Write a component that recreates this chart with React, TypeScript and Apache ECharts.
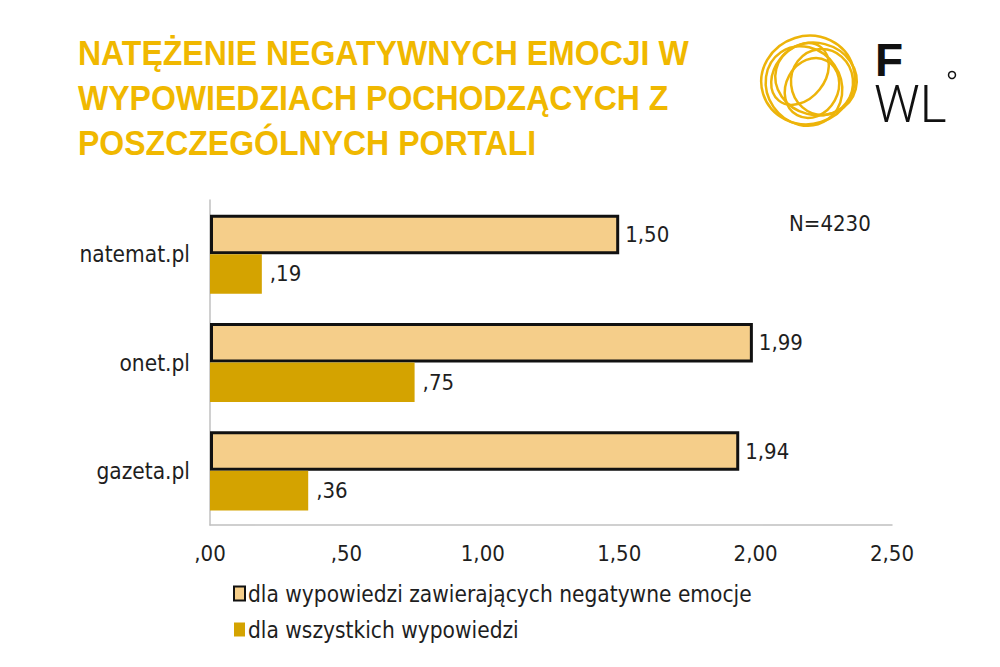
import React, { useEffect, useRef } from "react";
import * as echarts from "echarts";

const categories = ["natemat.pl", "onet.pl", "gazeta.pl"];
const negativeValues = [1.5, 1.99, 1.94];
const allValues = [0.19, 0.75, 0.36];
const seriesNames = ["dla wypowiedzi zawierających negatywne emocje", "dla wszystkich wypowiedzi"];
const titleLines = ["NATĘŻENIE NEGATYWNYCH EMOCJI W", "WYPOWIEDZIACH POCHODZĄCYCH Z", "POSZCZEGÓLNYCH PORTALI"];
const noteText = "N=4230";

const FONT = "'DejaVu Sans Condensed', 'Liberation Sans Narrow', sans-serif";
const TEXT = "#1e1e1e";
const FS = 22;

function fmt(v: number): string {
  const s = v.toFixed(2).replace(".", ",");
  return s.startsWith("0") ? s.slice(1) : s;
}

export default function App() {
  const ref = useRef<HTMLDivElement>(null);
  useEffect(() => {
    document.body.style.margin = "0";
    const chart = echarts.init(ref.current!, null, { renderer: "svg" });
    const yellow = "#F0B800";
    const ring = "#EDB40A";
    chart.setOption({
      animation: false,
      backgroundColor: "#ffffff",
      grid: { left: 210, right: 108, top: 200, bottom: 142 },
      legend: {
        orient: "vertical",
        left: 233,
        top: 582,
        padding: 0,
        itemWidth: 11,
        itemHeight: 14,
        itemGap: 13,
        icon: "rect",
        selectedMode: false,
        textStyle: { color: TEXT, fontSize: 22.5, fontFamily: FONT, padding: [0, 0, 0, -2] },
        data: seriesNames,
      },
      xAxis: {
        type: "value",
        min: 0,
        max: 2.5,
        interval: 0.5,
        axisLine: { show: true, lineStyle: { color: "#c0c0c0", width: 1.5 } },
        axisTick: { show: false },
        splitLine: { show: false },
        axisLabel: { formatter: (v: number) => fmt(v), color: TEXT, fontSize: FS, fontFamily: FONT, margin: 17 },
      },
      yAxis: {
        type: "category",
        inverse: true,
        data: categories,
        axisLine: { show: true, lineStyle: { color: "#c0c0c0", width: 1.5 } },
        axisTick: { show: false },
        axisLabel: { color: TEXT, fontSize: 22.5, fontFamily: FONT, margin: 20 },
      },
      series: [
        {
          name: seriesNames[0],
          type: "bar",
          data: negativeValues,
          barGap: "0%",
          barCategoryGap: "27%",
          itemStyle: { color: "#F5CE8A", borderColor: "#111111", borderWidth: 3 },
          label: { show: true, position: "right", distance: 6, formatter: (p: any) => fmt(p.value), color: TEXT, fontSize: FS, fontFamily: FONT },
        },
        {
          name: seriesNames[1],
          type: "bar",
          data: allValues,
          itemStyle: { color: "#D4A300" },
          label: { show: true, position: "right", distance: 8, formatter: (p: any) => fmt(p.value), color: TEXT, fontSize: FS, fontFamily: FONT },
        },
      ],
      graphic: [
        {
          type: "text",
          x: 78,
          y: 31,
          scaleX: 0.915,
          style: {
            text: titleLines.join("\n"),
            fill: yellow,
            fontSize: 35,
            lineHeight: 45,
            fontWeight: "bold",
            fontFamily: "'Liberation Sans', sans-serif",
          },
        },
        { type: "text", left: 789, top: 212, style: { text: noteText, fill: TEXT, fontSize: FS, fontFamily: FONT } },
        { type: "ellipse", x: 808, y: 80, rotation: 0.3, shape: { cx: 0, cy: 0, rx: 47, ry: 44 }, style: { fill: "none", stroke: ring, lineWidth: 2.5 } },
        { type: "ellipse", x: 816, y: 79, rotation: -0.25, shape: { cx: 0, cy: 0, rx: 41, ry: 36 }, style: { fill: "none", stroke: ring, lineWidth: 2.5 } },
        { type: "ellipse", x: 804, y: 86, rotation: 0.6, shape: { cx: 0, cy: 0, rx: 37, ry: 41 }, style: { fill: "none", stroke: ring, lineWidth: 2.5 } },
        { type: "ellipse", x: 822, y: 82, rotation: 0.1, shape: { cx: 0, cy: 0, rx: 31, ry: 33 }, style: { fill: "none", stroke: ring, lineWidth: 2.5 } },
        { type: "ellipse", x: 812, y: 88, rotation: -0.5, shape: { cx: 0, cy: 0, rx: 26, ry: 31 }, style: { fill: "none", stroke: ring, lineWidth: 2.5 } },
        { type: "ellipse", x: 800, y: 74, rotation: 0.9, shape: { cx: 0, cy: 0, rx: 34, ry: 25 }, style: { fill: "none", stroke: ring, lineWidth: 2.5 } },
        {
          type: "text",
          x: 874,
          y: 38,
          style: {
            text: "{f|F}\n{w|WL}",
            fill: "#111",
            rich: {
              f: { fontSize: 46, lineHeight: 44, fontWeight: "bold", fontFamily: "'Liberation Sans', sans-serif", fill: "#111", padding: [0, 0, 0, 1] },
              w: { fontSize: 51, lineHeight: 44, fontWeight: 300, fontFamily: "Roboto, 'Liberation Sans', sans-serif", fill: "#111" },
            },
          },
        },
        { type: "circle", shape: { cx: 952, cy: 75, r: 3.5 }, style: { fill: "none", stroke: "#111", lineWidth: 1.5 } },
      ],
    });
    return () => chart.dispose();
  }, []);
  return <div ref={ref} style={{ width: 1000, height: 667 }} />;
}
